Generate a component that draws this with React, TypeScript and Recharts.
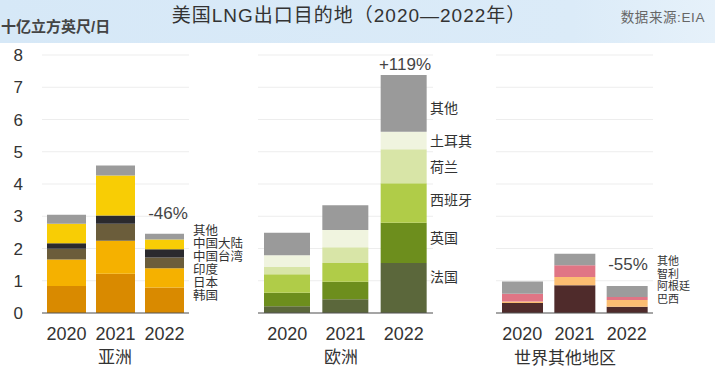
import { BarChart, Bar, XAxis, YAxis, CartesianGrid } from "recharts";

const YEARS = ["2020", "2021", "2022"];
const Y_TICKS = [0, 1, 2, 3, 4, 5, 6, 7, 8];

// 亚洲
const ASIA_KOREA = [0.84, 1.22, 0.79];
const ASIA_JAPAN = [0.82, 1.02, 0.6];
const ASIA_INDIA = [0.33, 0.53, 0.33];
const ASIA_TAIWAN = [0.17, 0.25, 0.26];
const ASIA_MAINLAND = [0.61, 1.24, 0.3];
const ASIA_OTHER = [0.28, 0.31, 0.18];

// 欧洲
const EU_FRANCE = [0.21, 0.43, 1.55];
const EU_UK = [0.42, 0.54, 1.25];
const EU_SPAIN = [0.57, 0.58, 1.22];
const EU_NETHERLANDS = [0.23, 0.49, 1.06];
const EU_TURKEY = [0.36, 0.53, 0.54];
const EU_OTHER = [0.7, 0.77, 1.76];

// 世界其他地区
const ROW_BRAZIL = [0.31, 0.86, 0.19];
const ROW_ARGENTINA = [0.05, 0.26, 0.21];
const ROW_CHILE = [0.24, 0.36, 0.1];
const ROW_OTHER = [0.38, 0.36, 0.34];

type Series = { key: string; name: string; color: string; values: number[] };

const ASIA_SERIES: Series[] = [
  { key: "korea", name: "韩国", color: "#d98a00", values: ASIA_KOREA },
  { key: "japan", name: "日本", color: "#f5b100", values: ASIA_JAPAN },
  { key: "india", name: "印度", color: "#6b5d3b", values: ASIA_INDIA },
  { key: "taiwan", name: "中国台湾", color: "#2b2a2e", values: ASIA_TAIWAN },
  { key: "mainland", name: "中国大陆", color: "#f8cd05", values: ASIA_MAINLAND },
  { key: "other", name: "其他", color: "#9b9b9b", values: ASIA_OTHER },
];

const EU_SERIES: Series[] = [
  { key: "france", name: "法国", color: "#5b673b", values: EU_FRANCE },
  { key: "uk", name: "英国", color: "#6d8e1d", values: EU_UK },
  { key: "spain", name: "西班牙", color: "#b0cc48", values: EU_SPAIN },
  { key: "netherlands", name: "荷兰", color: "#d8e5a7", values: EU_NETHERLANDS },
  { key: "turkey", name: "土耳其", color: "#f0f4df", values: EU_TURKEY },
  { key: "other", name: "其他", color: "#9a9a9a", values: EU_OTHER },
];

const ROW_SERIES: Series[] = [
  { key: "brazil", name: "巴西", color: "#4f2b2b", values: ROW_BRAZIL },
  { key: "argentina", name: "阿根廷", color: "#fbbd72", values: ROW_ARGENTINA },
  { key: "chile", name: "智利", color: "#e07585", values: ROW_CHILE },
  { key: "other", name: "其他", color: "#9c9c9c", values: ROW_OTHER },
];

const FONT = "'Liberation Sans', 'Noto Sans CJK SC', sans-serif";

function buildRows(series: Series[]) {
  return YEARS.map((year, i) => {
    const row: Record<string, string | number> = { year };
    series.forEach((s) => (row[s.key] = s.values[i]));
    return row;
  });
}

function Panel({
  series,
  left,
  width,
  barSize,
  withAxis,
}: {
  series: Series[];
  left: number;
  width: number;
  barSize: number;
  withAxis?: boolean;
}) {
  return (
    <div style={{ position: "absolute", left, top: 0 }}>
      <BarChart
        width={width}
        height={378}
        data={buildRows(series)}
        margin={{ top: 55, right: 0, bottom: 35, left: 0 }}
        barCategoryGap={0}
        style={{ fontFamily: FONT }}
      >
        <CartesianGrid vertical={false} stroke="#ededed" />
        <XAxis
          dataKey="year"
          height={30}
          interval={0}
          tickLine={false}
          axisLine={{ stroke: "#555" }}
          tickMargin={8}
          tick={{ fontSize: 18, fill: "#333" }}
        />
        <YAxis
          domain={[0, 8]}
          ticks={Y_TICKS}
          hide={!withAxis}
          width={42}
          axisLine={false}
          tickLine={false}
          tickSize={0}
          tickMargin={19}
          tick={{ fontSize: 17, fill: "#333" }}
        />
        {series.map((s) => (
          <Bar
            key={s.key}
            dataKey={s.key}
            stackId="a"
            fill={s.color}
            barSize={barSize}
            isAnimationActive={false}
          />
        ))}
      </BarChart>
    </div>
  );
}

export default function App() {
  return (
    <div
      style={{
        position: "absolute",
        left: 0,
        top: 0,
        width: 715,
        height: 378,
        background: "#fff",
        fontFamily: FONT,
        overflow: "hidden",
      }}
    >
      <div
        style={{
          position: "absolute",
          left: 0,
          top: 0,
          width: 715,
          height: 43,
          background: "linear-gradient(90deg, #d6e8f7 0%, #dbebf8 80%, #e6f1fa 100%)",
        }}
      />
      <Panel series={ASIA_SERIES} left={0} width={189} barSize={39} withAxis />
      <Panel series={EU_SERIES} left={258} width={175} barSize={46} />
      <Panel series={ROW_SERIES} left={496} width={157} barSize={41} />

      <svg
        width={715}
        height={378}
        style={{ position: "absolute", left: 0, top: 0, pointerEvents: "none" }}
        fontFamily={FONT}
      >
        <text x={1} y={26} fontSize={15} fill="#444" fontWeight={600} dominantBaseline="central">
          十亿立方英尺/日
        </text>
        <text
          x={349}
          y={15}
          fontSize={19}
          fill="#333"
          letterSpacing={1}
          textAnchor="middle"
          dominantBaseline="central"
        >
          美国LNG出口目的地（2020—2022年）
        </text>
        <text
          x={705}
          y={17}
          fontSize={13.5}
          fill="#666"
          letterSpacing={0.6}
          textAnchor="end"
          dominantBaseline="central"
        >
          数据来源:EIA
        </text>

        <text x={168} y={213} fontSize={17} fill="#444" textAnchor="middle" dominantBaseline="central">
          -46%
        </text>
        <text x={405} y={64} fontSize={17} fill="#444" textAnchor="middle" dominantBaseline="central">
          +119%
        </text>
        <text x={628} y={264} fontSize={17} fill="#444" textAnchor="middle" dominantBaseline="central">
          -55%
        </text>

        {["其他", "中国大陆", "中国台湾", "印度", "日本", "韩国"].map((t, i) => (
          <text key={t} x={193} y={231 + i * 13} fontSize={12.5} fill="#333" dominantBaseline="central">
            {t}
          </text>
        ))}
        {[
          ["其他", 108],
          ["土耳其", 141],
          ["荷兰", 167],
          ["西班牙", 200],
          ["英国", 238],
          ["法国", 277],
        ].map(([t, y]) => (
          <text key={t} x={430} y={y} fontSize={14} fill="#333" dominantBaseline="central">
            {t}
          </text>
        ))}
        {["其他", "智利", "阿根廷", "巴西"].map((t, i) => (
          <text key={t} x={657} y={261 + i * 12.5} fontSize={11} fill="#333" dominantBaseline="central">
            {t}
          </text>
        ))}

        <text x={115} y={357} fontSize={17} fill="#333" textAnchor="middle" dominantBaseline="central">
          亚洲
        </text>
        <text x={341} y={357} fontSize={17} fill="#333" textAnchor="middle" dominantBaseline="central">
          欧洲
        </text>
        <text x={565} y={358} fontSize={17} fill="#333" textAnchor="middle" dominantBaseline="central">
          世界其他地区
        </text>
      </svg>
    </div>
  );
}
